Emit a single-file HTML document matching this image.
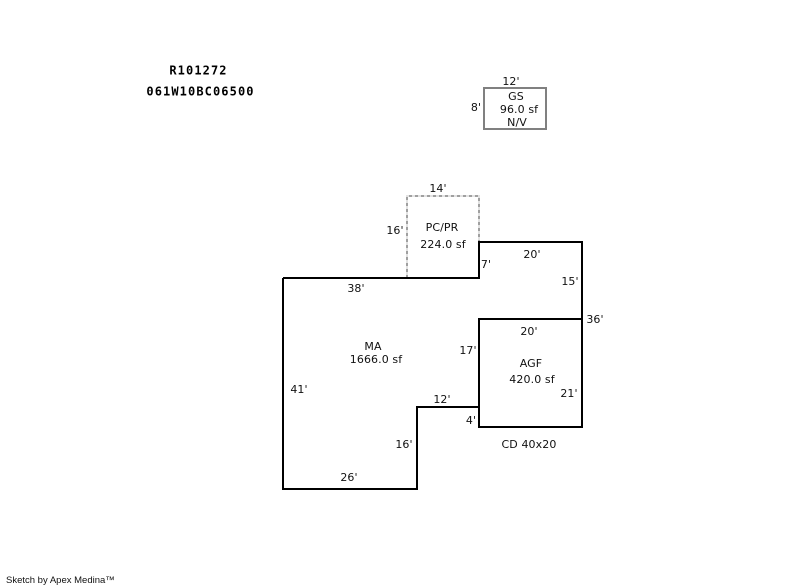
<!DOCTYPE html>
<html>
<head>
<meta charset="utf-8">
<style>
html,body{margin:0;padding:0;background:#fff;width:800px;height:587px;overflow:hidden}
svg{display:block}
text{font-family:"DejaVu Sans","Liberation Sans",sans-serif;font-size:11px;letter-spacing:0.1px;fill:#111;text-anchor:middle}
.b{font-family:"DejaVu Sans Mono","Liberation Mono",monospace;font-weight:bold;font-size:12px;letter-spacing:1.1px;fill:#000}
.s{font-family:"Liberation Sans",sans-serif;font-size:9.5px;letter-spacing:0;text-anchor:start}
</style>
</head>
<body>
<svg width="800" height="587" viewBox="0 0 800 587" xmlns="http://www.w3.org/2000/svg">
<g shape-rendering="crispEdges" fill="none">
<rect x="484" y="88" width="62" height="41" stroke="#808080" stroke-width="2"/>
<path d="M407 278V196H479V242" stroke="#e2e2e2" stroke-width="2"/>
<path d="M407 278V196H479V242" stroke="#a0a0a0" stroke-width="2" stroke-dasharray="3 3"/>
<path d="M283 278H479V242H582V427H479V319H582M479 407H417V489H283V278" stroke="#000" stroke-width="2"/>
</g>
<text class="b" x="198.5" y="74.5">R101272</text>
<text class="b" x="200.5" y="95.5">061W10BC06500</text>
<text x="511" y="85">12'</text>
<text x="476" y="111">8'</text>
<text x="516" y="100">GS</text>
<text x="519" y="113">96.0 sf</text>
<text x="517" y="126">N/V</text>
<text x="438" y="192">14'</text>
<text x="395" y="234">16'</text>
<text x="442" y="231">PC/PR</text>
<text x="443" y="248">224.0 sf</text>
<text x="486" y="268">7'</text>
<text x="532" y="258">20'</text>
<text x="570" y="285">15'</text>
<text x="595" y="323">36'</text>
<text x="529" y="335">20'</text>
<text x="468" y="354">17'</text>
<text x="531" y="367">AGF</text>
<text x="532" y="383">420.0 sf</text>
<text x="569" y="397">21'</text>
<text x="442" y="403">12'</text>
<text x="471" y="424">4'</text>
<text x="529" y="448">CD 40x20</text>
<text x="356" y="292">38'</text>
<text x="373" y="350">MA</text>
<text x="376" y="363">1666.0 sf</text>
<text x="299" y="393">41'</text>
<text x="404" y="448">16'</text>
<text x="349" y="481">26'</text>
<text class="s" x="6" y="583">Sketch by Apex Medina™</text>
</svg>
</body>
</html>
